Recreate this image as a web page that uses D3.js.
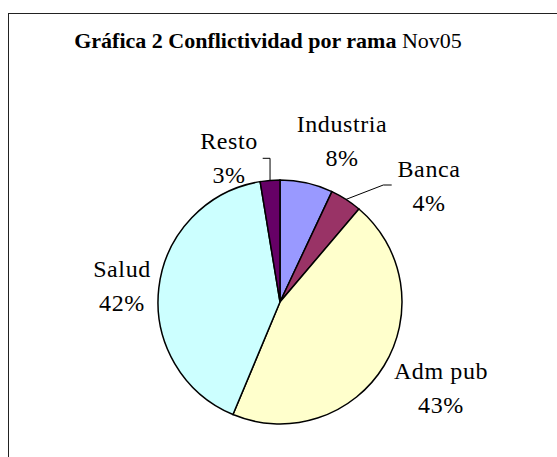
<!DOCTYPE html>
<meta charset="utf-8">
<style>
body { margin: 0; background: #fff; }
.slice { stroke: #000; stroke-width: 1.5px; }
.leader { fill: none; stroke: #000; stroke-width: 1px; }
</style>
<svg width="557" height="457"></svg>
<script src="https://d3js.org/d3.v7.min.js"></script>
<script>

// data, clockwise from 12 o'clock
var categories = ["Industria", "Banca", "Adm pub", "Salud", "Resto"];
var values = [7.0, 4.2, 45.1, 41.1, 2.6];
var pctLabels = ["8%", "4%", "43%", "42%", "3%"];
var colors = ["#9999FF", "#993366", "#FFFFCC", "#CCFFFF", "#660066"];

var serif = "'Liberation Serif'";

var svg = d3.select("svg"),
    cx = 280, cy = 302, r = 122;

// chart frame (runs past the right/bottom of the window)
svg.append("rect")
    .attr("x", 8.5).attr("y", 13.5)
    .attr("width", 600).attr("height", 500)
    .attr("fill", "#fff")
    .attr("stroke", "#222")
    .attr("stroke-width", 1);

var title = svg.append("text")
    .attr("x", 268).attr("y", 48)
    .attr("text-anchor", "middle")
    .style("font-family", serif)
    .style("font-size", "22px");
title.append("tspan").style("font-weight", "bold").text("Gráfica 2 Conflictividad por rama ");
title.append("tspan").text("Nov05");

var pie = d3.pie().sort(null).value(function(d) { return d; });
var arcs = pie(values);
var arc = d3.arc().innerRadius(0).outerRadius(r);
var edge = d3.arc().innerRadius(r).outerRadius(r);

var g = svg.append("g").attr("transform", "translate(" + cx + "," + cy + ")");

g.selectAll("path.slice")
    .data(arcs)
  .enter().append("path")
    .attr("class", "slice")
    .attr("d", arc)
    .attr("fill", function(d, i) { return colors[i]; });

// label layout: centre x and baseline of the first line (offsets from pie centre)
var labelPos = {
  "Industria": [62, -170],
  "Banca":     [149, -125],
  "Adm pub":   [161, 77],
  "Salud":     [-158, -25],
  "Resto":     [-51, -153]
};
// leader elbows for the small slices
var elbows = {
  "Banca": [[103.3, -117], [111.7, -117]],
  "Resto": [[-10, -143.7], [-17.3, -143.7]]
};

arcs.forEach(function(a, i) {
  var name = categories[i], p = labelPos[name];
  var t = g.append("text")
      .attr("text-anchor", "middle")
      .style("font-family", serif)
      .style("font-size", "24px")
      .style("letter-spacing", "0.6px");
  t.append("tspan").attr("x", p[0]).attr("y", p[1]).text(name);
  t.append("tspan").attr("x", p[0]).attr("y", p[1] + 33.5).text(pctLabels[i]);

  if (elbows[name]) {
    var c = edge.centroid(a);
    var e = elbows[name];
    var pts = name === "Resto" ? [[c[0], c[1]], [c[0], e[0][1]], e[1]] : [c, e[0], e[1]];
    g.append("path")
        .attr("class", "leader")
        .attr("d", d3.line()(pts));
  }
});

</script>
